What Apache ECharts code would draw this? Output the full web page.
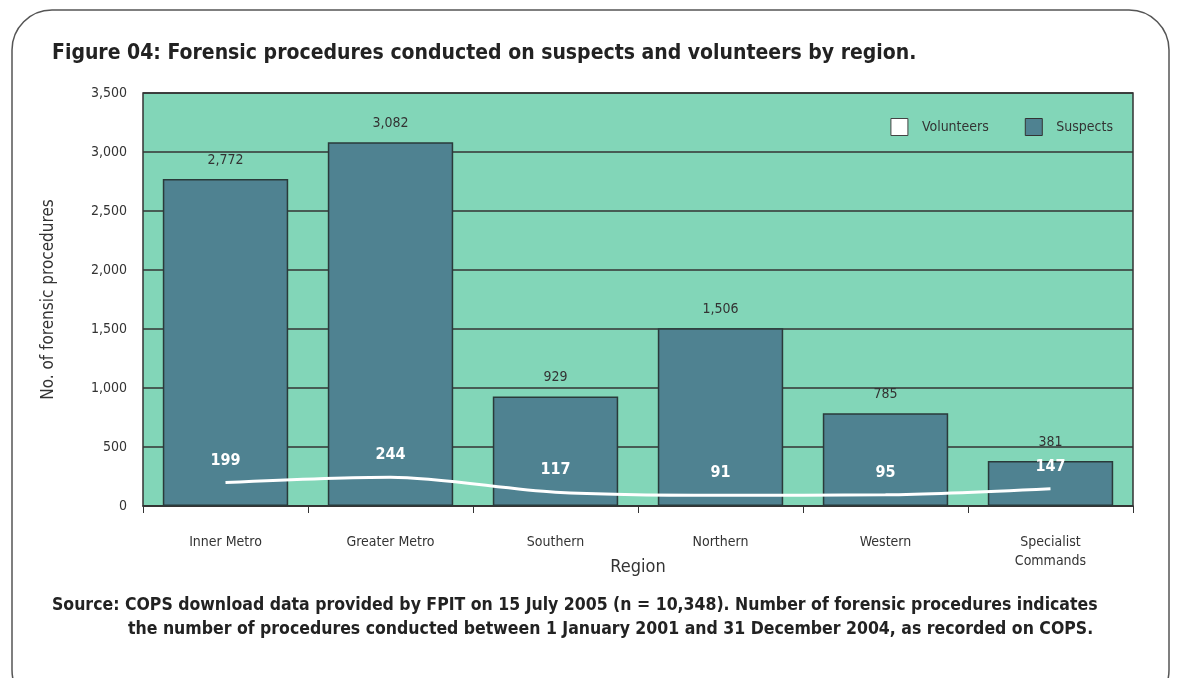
<!DOCTYPE html>
<html>
<head>
    <meta charset="utf-8">
    <title>ECharts</title>
    <script src="https://cdn.jsdelivr.net/npm/echarts@6/dist/echarts.min.js"></script>
</head>
<body style="margin:0">
<div id="main" style="width:1180px;height:678px;"></div>
<script type="text/javascript">
    var regions = ['Inner Metro', 'Greater Metro', 'Southern', 'Northern', 'Western', 'Specialist\nCommands'];
    var suspects = [2772, 3082, 929, 1506, 785, 381];
    var volunteers = [199, 244, 117, 91, 95, 147];
    var yTicks = [0, 500, 1000, 1500, 2000, 2500, 3000, 3500];

    var narrow = '"Liberation Sans Narrow", "DejaVu Sans Condensed", sans-serif';

    var myChart = echarts.init(document.getElementById('main'));

    var option = {
        backgroundColor: '#fff',
        textStyle: { fontFamily: narrow },
        title: {
            text: 'Figure 04: Forensic procedures conducted on suspects and volunteers by region.',
            left: 47,
            top: 38,
            textStyle: { fontFamily: narrow, fontSize: 21, fontWeight: 'bold', color: '#222' }
        },
        graphic: [{
            type: 'rect',
            shape: { x: 12, y: 10, width: 1157, height: 700, r: 40 },
            style: { fill: 'none', stroke: '#555', lineWidth: 1.5 },
            z: -1
        }, {
            type: 'text',
            left: 52,
            top: 596,
            style: {
                text: 'Source: COPS download data provided by FPIT on 15 July 2005 (n = 10,348). Number of forensic procedures indicates',
                font: 'bold 17.5px ' + narrow,
                fill: '#222'
            }
        }, {
            type: 'text',
            left: 128,
            top: 620,
            style: {
                text: 'the number of procedures conducted between 1 January 2001 and 31 December 2004, as recorded on COPS.',
                font: 'bold 17.5px ' + narrow,
                fill: '#222'
            }
        }],
        legend: {
            right: 62,
            top: 113,
            itemWidth: 17,
            itemHeight: 17,
            itemGap: 36,
            textStyle: { fontFamily: narrow, fontSize: 14, color: '#333', padding: [0, 0, 0, 9] },
            data: [
                { name: 'Volunteers', icon: 'rect', itemStyle: { color: '#fff', borderColor: '#444', borderWidth: 1 } },
                { name: 'Suspects', icon: 'rect', itemStyle: { color: '#4f8291', borderColor: '#333', borderWidth: 1 } }
            ]
        },
        grid: {
            left: 143,
            right: 47,
            top: 93,
            bottom: 172,
            show: true,
            backgroundColor: '#82d6b8',
            borderColor: '#333',
            borderWidth: 1.5
        },
        xAxis: {
            type: 'category',
            data: regions,
            name: 'Region',
            nameLocation: 'middle',
            nameGap: 52,
            nameMoveOverlap: false,
            nameTextStyle: { fontFamily: narrow, fontSize: 18, color: '#333' },
            axisLine: { lineStyle: { color: '#333', width: 1.5 } },
            axisTick: { show: true, length: 7, lineStyle: { color: '#333' } },
            axisLabel: { fontFamily: narrow, fontSize: 14, color: '#333', margin: 27, lineHeight: 19 }
        },
        yAxis: {
            type: 'value',
            min: 0,
            max: 3500,
            interval: 500,
            name: 'No. of forensic procedures',
            nameLocation: 'middle',
            nameGap: 86,
            nameTextStyle: { fontFamily: narrow, fontSize: 17, color: '#333' },
            axisLine: { show: false },
            axisTick: { show: false },
            axisLabel: {
                fontFamily: narrow, fontSize: 14, color: '#333', margin: 16,
                formatter: function (v) { return yTicks.indexOf(v) >= 0 ? v.toLocaleString('en-US') : ''; }
            },
            splitLine: { lineStyle: { color: '#333', width: 1.5 } }
        },
        series: [{
            name: 'Suspects',
            type: 'bar',
            data: suspects,
            barWidth: '76%',
            itemStyle: { color: '#4f8291', borderColor: '#2a3a3a', borderWidth: 1.5 },
            label: {
                show: true,
                position: 'top',
                distance: 12,
                fontFamily: narrow,
                fontSize: 14,
                color: '#333',
                formatter: function (p) { return p.value.toLocaleString('en-US'); }
            },
            z: 2
        }, {
            name: 'Volunteers',
            type: 'line',
            data: volunteers,
            smooth: 0.3,
            symbol: 'circle',
            symbolSize: 0,
            itemStyle: { color: '#fff' },
            lineStyle: { color: '#fff', width: 3 },
            label: {
                show: true,
                position: 'top',
                distance: 14,
                fontFamily: narrow,
                fontSize: 16,
                fontWeight: 'bold',
                color: '#fff'
            },
            z: 3
        }]
    };

    myChart.setOption(option);
</script>
</body>
</html>
